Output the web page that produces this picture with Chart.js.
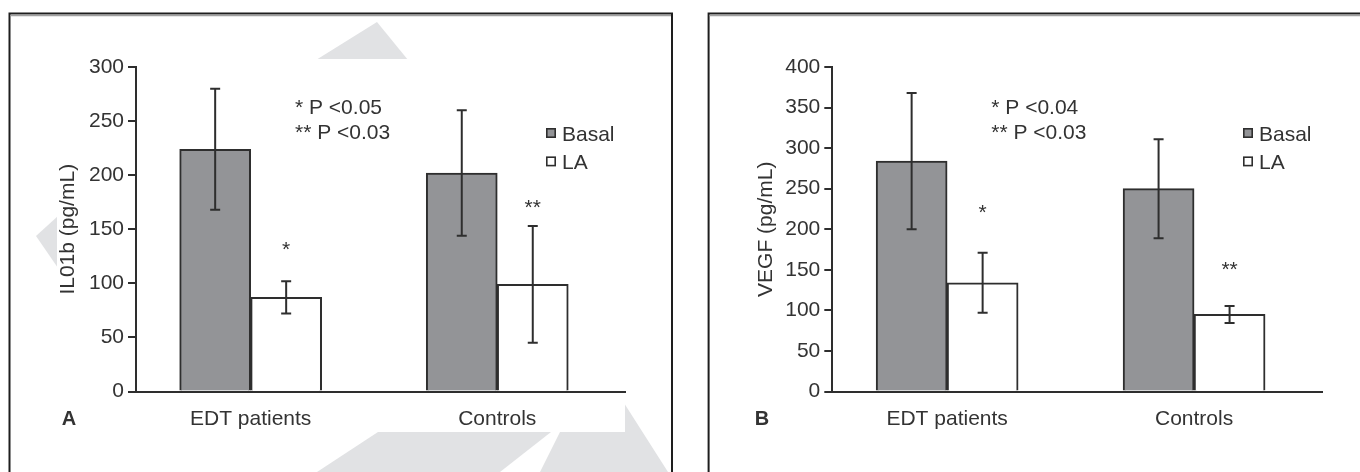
<!DOCTYPE html>
<html>
<head>
<meta charset="utf-8">
<script src="https://cdn.jsdelivr.net/npm/chart.js@4.4.1/dist/chart.umd.min.js"></script>
<style>
  html, body { margin: 0; padding: 0; background: #fff; }
  #wrap { position: relative; width: 1360px; height: 472px; }
  canvas { position: absolute; top: 0; }
  #chartA { left: 0; }
  #chartB { left: 680px; }
</style>
</head>
<body>
<div id="wrap">
  <canvas id="chartA" width="680" height="472"></canvas>
  <canvas id="chartB" width="680" height="472"></canvas>
</div>
<script>
// DATA //
var groups = ['EDT patients', 'Controls'];
var seriesNames = ['Basal', 'LA'];

// panel A - IL01b
var il1bBasal = [224, 202];
var il1bBasalErr = [56, 58];
var il1bLA = [87, 99];
var il1bLAErr = [15, 54];
var il1bStars = ['*', '**'];
var il1bStarAt = [134, 172];
var il1bNotes = ['* P <0.05', '** P <0.03'];
var il1bTicks = [0, 50, 100, 150, 200, 250, 300];

// panel B - VEGF
var vegfBasal = [284, 250];
var vegfBasalErr = [84, 61];
var vegfLA = [134, 95];
var vegfLAErr = [37, 10.5];
var vegfStars = ['*', '**'];
var vegfStarAt = [224, 154];
var vegfNotes = ['* P <0.04', '** P <0.03'];
var vegfTicks = [0, 50, 100, 150, 200, 250, 300, 350, 400];

// STYLE //
var ink = '#2e2e2e';
var basalGrey = '#939497';
var fontFamily = '"Liberation Sans", Arial, sans-serif';

// panel decorations: frame, watermark, error bars, legend, notes
function panelPlugin(p) {
  return {
    id: 'panel' + p.letter,
    beforeDraw: function (chart) {
      var c = chart.ctx;
      c.save();
      c.fillStyle = '#fff';
      c.fillRect(0, 0, chart.width, chart.height);
      if (p.watermark) {
        c.fillStyle = '#e1e2e4';
        p.watermark.forEach(function (poly) {
          c.beginPath();
          poly.forEach(function (pt, i) { if (i) c.lineTo(pt[0], pt[1]); else c.moveTo(pt[0], pt[1]); });
          c.closePath();
          c.fill();
        });
        c.fillStyle = '#fff';
        c.fillRect(57, 59, 568, 373);
      }
      // frame
      c.lineWidth = 2;
      c.strokeStyle = '#1e1e1e';
      c.beginPath();
      c.moveTo(p.frame[0], chart.height);
      c.lineTo(p.frame[0], p.frame[1]);
      c.lineTo(p.frame[2], p.frame[1]);
      c.lineTo(p.frame[2], chart.height);
      c.stroke();
      c.strokeStyle = '#a0a0a0';
      c.lineWidth = 1.5;
      c.beginPath();
      c.moveTo(p.frame[0] + 1, p.frame[1] + 2);
      c.lineTo(p.frame[2] - 1, p.frame[1] + 2);
      c.stroke();
      c.restore();
    },
    afterDatasetsDraw: function (chart) {
      var c = chart.ctx;
      var y = chart.scales.y;
      c.save();
      c.strokeStyle = ink;
      c.lineWidth = 2;
      chart.data.datasets.forEach(function (ds, di) {
        var meta = chart.getDatasetMeta(di);
        meta.data.forEach(function (bar, j) {
          var hi = y.getPixelForValue(ds.data[j] + ds.errors[j]);
          var lo = y.getPixelForValue(ds.data[j] - ds.errors[j]);
          c.beginPath();
          c.moveTo(bar.x, hi); c.lineTo(bar.x, lo);
          c.moveTo(bar.x - 5, hi); c.lineTo(bar.x + 5, hi);
          c.moveTo(bar.x - 5, lo); c.lineTo(bar.x + 5, lo);
          c.stroke();
        });
      });
      c.restore();
    },
    afterDraw: function (chart) {
      var c = chart.ctx;
      var area = chart.chartArea;
      var y = chart.scales.y;
      c.save();
      c.fillStyle = '#333';
      c.textBaseline = 'alphabetic';

      // significance stars over LA bars
      c.font = '21px ' + fontFamily;
      c.textAlign = 'center';
      var laMeta = chart.getDatasetMeta(1);
      laMeta.data.forEach(function (bar, j) {
        c.fillText(p.stars[j], bar.x, y.getPixelForValue(p.starAt[j]) + 9);
      });

      // p value notes
      c.textAlign = 'left';
      p.notes.forEach(function (t, i) {
        c.fillText(t, area.left + 159, area.top + 46.5 + i * 25.7);
      });

      // legend
      var lx = area.right - 79, ly = area.top + 61;
      chart.data.datasets.forEach(function (ds, i) {
        var by = ly + i * 28.4;
        c.fillStyle = ds.backgroundColor;
        c.fillRect(lx, by, 10, 10);
        c.strokeStyle = ink;
        c.lineWidth = 1.6;
        c.strokeRect(lx + 0.8, by + 0.8, 8.4, 8.4);
        c.fillStyle = '#333';
        c.fillText(ds.label, lx + 16, by + 12.5);
      });

      // panel letter
      c.font = 'bold 20px ' + fontFamily;
      c.textAlign = 'center';
      c.fillText(p.letter, p.letterX, 425);
      c.restore();
    }
  };
}

function makeChart(id, p) {
  var ctx = document.getElementById(id).getContext('2d');
  return new Chart(ctx, {
    type: 'bar',
    data: {
      labels: groups.map(function (g, i) { return i; }),
      datasets: [{
        label: seriesNames[0],
        data: p.basal,
        errors: p.basalErr,
        backgroundColor: basalGrey,
        borderColor: ink,
        borderWidth: 2,
        barThickness: 71
      }, {
        label: seriesNames[1],
        data: p.la,
        errors: p.laErr,
        backgroundColor: '#ffffff',
        borderColor: ink,
        borderWidth: 2,
        barThickness: 71
      }]
    },
    options: {
      responsive: false,
      animation: false,
      layout: { padding: { left: 0, top: 67, right: p.padRight, bottom: 0 } },
      plugins: { legend: { display: false }, tooltip: { enabled: false } },
      scales: {
        x: {
          type: 'linear',
          offset: false,
          min: -0.465,
          max: 1.518,
          afterBuildTicks: function (s) { s.ticks = groups.map(function (g, i) { return { value: i }; }); },
          afterFit: function (s) { s.height = 80.5; },
          grid: { display: false, offset: false },
          border: { display: true, color: ink, width: 2 },
          ticks: {
            autoSkip: false,
            maxRotation: 0,
            padding: 7,
            color: '#333',
            font: { family: fontFamily, size: 21 },
            callback: function (v) { return groups[v]; }
          }
        },
        y: {
          min: p.ticks[0],
          max: p.ticks[p.ticks.length - 1],
          afterBuildTicks: function (s) { s.ticks = p.ticks.map(function (v) { return { value: v }; }); },
          afterFit: function (s) { s.width = p.axisWidth; },
          grid: { drawOnChartArea: false, drawTicks: true, tickLength: 8, color: ink, lineWidth: 2 },
          border: { display: true, color: ink, width: 2 },
          ticks: { padding: 4, color: '#333', font: { family: fontFamily, size: 21 } },
          title: {
            display: true,
            text: p.title,
            color: '#333',
            font: { family: fontFamily, size: 21 },
            padding: { top: p.titlePad, bottom: 0 }
          }
        }
      }
    },
    plugins: [panelPlugin(p)]
  });
}

// PANEL A //
makeChart('chartA', {
  letter: 'A', letterX: 69, title: 'IL01b (pg/mL)',
  basal: il1bBasal, basalErr: il1bBasalErr, la: il1bLA, laErr: il1bLAErr,
  stars: il1bStars, starAt: il1bStarAt, notes: il1bNotes, ticks: il1bTicks,
  axisWidth: 136, padRight: 55, titlePad: 55.4,
  frame: [9.5, 13.5, 672],
  watermark: [
    [[377, 22], [316, 60], [408, 60]],
    [[36, 236], [58, 216], [58, 268]],
    [[317, 472], [378, 432], [551, 432], [500, 472]],
    [[560, 432], [624, 432], [624, 403], [668, 472], [540, 472]]
  ]
});

// PANEL B //
makeChart('chartB', {
  letter: 'B', letterX: 82, title: 'VEGF (pg/mL)',
  basal: vegfBasal, basalErr: vegfBasalErr, la: vegfLA, laErr: vegfLAErr,
  stars: vegfStars, starAt: vegfStarAt, notes: vegfNotes, ticks: vegfTicks,
  axisWidth: 152.3, padRight: 38, titlePad: 73.4,
  frame: [28.6, 13.5, 700]
});
</script>
</body>
</html>
